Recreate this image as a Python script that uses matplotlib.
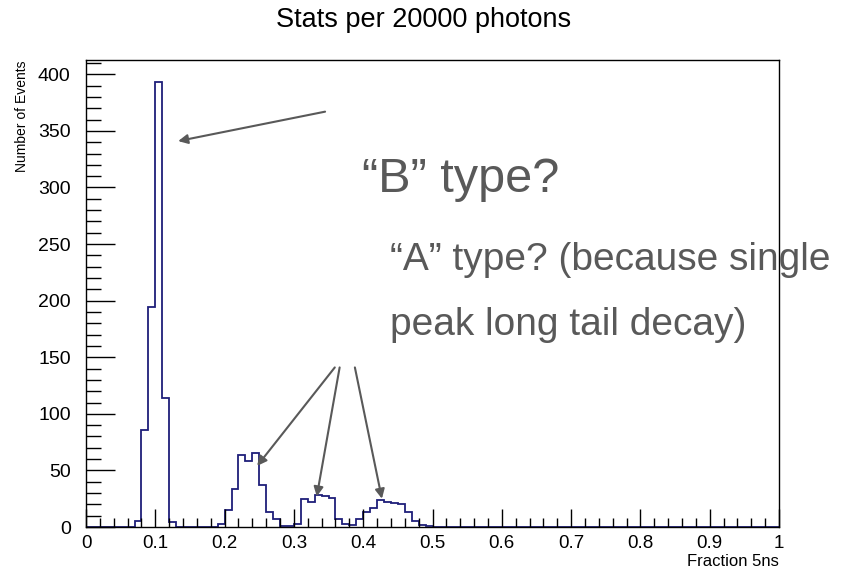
import numpy as np
import matplotlib.pyplot as plt
from matplotlib.ticker import MultipleLocator, FuncFormatter

# histogram bins (lower edge of each 0.01 wide bin) and counts
bin_lo = [0.07, 0.08, 0.09, 0.10, 0.11, 0.12,
          0.19, 0.20, 0.21, 0.22, 0.23, 0.24, 0.25, 0.26, 0.27, 0.28, 0.29,
          0.30, 0.31, 0.32, 0.33, 0.34, 0.35, 0.36, 0.37, 0.38, 0.39,
          0.40, 0.41, 0.42, 0.43, 0.44, 0.45, 0.46, 0.47, 0.48, 0.49]
n_events = [5, 86, 194, 393, 114, 4,
            3, 15, 34, 64, 58, 65, 37, 13, 7, 1, 1,
            3, 25, 22, 28, 27, 26, 7, 3, 2, 7,
            13, 17, 24, 22, 21, 20, 13, 5, 2, 1]

title = "Stats per 20000 photons"
xlabel = "Fraction 5ns"
ylabel = "Number of Events"

edges = np.linspace(0, 1, 101)
counts = np.zeros(100)
for lo, n in zip(bin_lo, n_events):
    counts[int(round(lo * 100))] = n

plt.rcParams['font.family'] = ['Liberation Sans', 'DejaVu Sans']

fig = plt.figure(figsize=(8.47, 5.70), dpi=100)
ax = fig.add_axes([86 / 847, 1 - 527 / 570, 693 / 847, 467 / 570])

ax.stairs(counts, edges, color='#1f1f7a', linewidth=1.3)
ax.set_xlim(0, 1)
ax.set_ylim(0, max(n_events) * 1.05)

# ROOT look: inward ticks, left/bottom only
ax.xaxis.set_major_locator(MultipleLocator(0.1))
ax.xaxis.set_minor_locator(MultipleLocator(0.02))
ax.yaxis.set_major_locator(MultipleLocator(50))
ax.yaxis.set_minor_locator(MultipleLocator(10))
ax.xaxis.set_major_formatter(FuncFormatter(lambda v, p: f"{v:g}"))
ax.tick_params(axis='x', which='major', direction='in', length=13, width=1, labelsize=13.5, pad=6)
ax.tick_params(axis='x', which='minor', direction='in', length=6.5, width=1)
ax.tick_params(axis='y', which='major', direction='in', length=21, width=1, labelsize=14, pad=11)
ax.tick_params(axis='y', which='minor', direction='in', length=10.5, width=1)
for s in ax.spines.values():
    s.set_linewidth(1)

ax.set_xlabel(xlabel, fontsize=12, ha='right', va='center')
ax.xaxis.set_label_coords(1.0, -(561 - 527) / 467)
ax.set_ylabel(ylabel, fontsize=10, ha='right', va='center')
ax.yaxis.set_label_coords(-(86 - 22) / 693, 1.0)
fig.text(0.5, 1 - 20 / 570, title, ha='center', va='center', fontsize=19.5)

# annotations
grey = '#595959'
fig.text(362 / 847, 1 - 180 / 570, "\u201cB\u201d type?", fontsize=35, color=grey, va='center', ha='left')
fig.text(390 / 847, 1 - 260 / 570, "\u201cA\u201d type? (because single", fontsize=28, color=grey, va='center', ha='left')
fig.text(390 / 847, 1 - 325 / 570, "peak long tail decay)", fontsize=28, color=grey, va='center', ha='left')

arrow = dict(arrowstyle='-|>', color=grey, lw=1.5, mutation_scale=14, shrinkA=0, shrinkB=0)
ax.annotate("", xy=(0.133, 341), xytext=(0.345, 367), arrowprops=arrow)
ax.annotate("", xy=(0.247, 54), xytext=(0.359, 141), arrowprops=arrow)
ax.annotate("", xy=(0.333, 27), xytext=(0.366, 141), arrowprops=arrow)
ax.annotate("", xy=(0.427, 25), xytext=(0.388, 141), arrowprops=arrow)

fig.savefig("out.png", dpi=100)
